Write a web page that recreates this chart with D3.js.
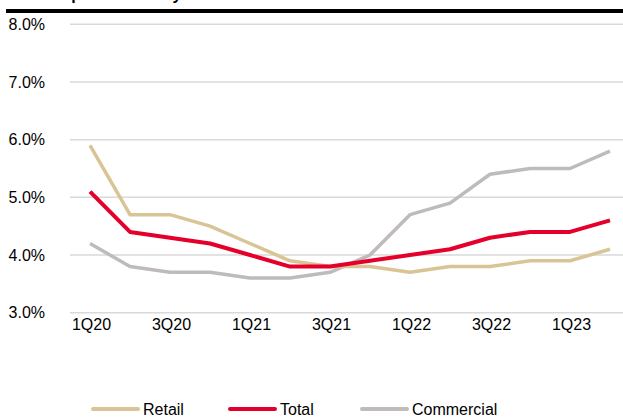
<!DOCTYPE html>
<html>
<head>
<meta charset="utf-8">
<script src="https://cdn.jsdelivr.net/npm/d3@7"></script>
<style>
  html, body { margin: 0; padding: 0; background: #fff; }
  svg { display: block; font-family: "Liberation Sans", Arial, sans-serif; }
</style>
</head>
<body>
<svg id="chart" width="623" height="417"></svg>
<script>
const quarters = ["1Q20","2Q20","3Q20","4Q20","1Q21","2Q21","3Q21","4Q21","1Q22","2Q22","3Q22","4Q22","1Q23","2Q23"];
const tickLabels = ["1Q20","3Q20","1Q21","3Q21","1Q22","3Q22","1Q23"];
const yTicks = [3, 4, 5, 6, 7, 8];
const retail     = [5.9, 4.7, 4.7, 4.5, 4.2, 3.9, 3.8, 3.8, 3.7, 3.8, 3.8, 3.9, 3.9, 4.1];
const total      = [5.1, 4.4, 4.3, 4.2, 4.0, 3.8, 3.8, 3.9, 4.0, 4.1, 4.3, 4.4, 4.4, 4.6];
const commercial = [4.2, 3.8, 3.7, 3.7, 3.6, 3.6, 3.7, 4.0, 4.7, 4.9, 5.4, 5.5, 5.5, 5.8];
const seriesNames = ["Retail", "Total", "Commercial"];
const titleText = "Total impaired ratio by sector";

const colors = { Retail: "#D9C495", Total: "#E4002B", Commercial: "#BFBBBB" };
const widths = { Retail: 3.5, Total: 4, Commercial: 3.5 };
const seriesData = { Retail: retail, Total: total, Commercial: commercial };

const svg = d3.select("#chart");

// title (mostly cut off above the frame) and rule
svg.append("text").attr("x", 11).attr("y", -0.5)
  .attr("font-size", 16).attr("font-weight", "bold").attr("fill", "#000")
  .text(titleText);
svg.append("rect").attr("x", 6).attr("y", 9).attr("width", 617).attr("height", 4).attr("fill", "#000");

const x = d3.scalePoint().domain(quarters).range([70, 630]).padding(0.5);
const y = d3.scaleLinear().domain([3, 8]).range([312.7, 24.3]);

// gridlines
svg.append("g").selectAll("line").data(yTicks).join("line")
  .attr("x1", 70).attr("x2", 623)
  .attr("y1", d => y(d)).attr("y2", d => y(d))
  .attr("stroke", "#D9D9D9").attr("stroke-width", 1.5);

// y axis labels
const yAxis = d3.axisLeft(y).tickValues(yTicks).tickFormat(d => d.toFixed(1) + "%").tickSize(0).tickPadding(0);
const gy = svg.append("g").attr("transform", "translate(45,0)").call(yAxis);
gy.select(".domain").remove();
gy.selectAll("text").attr("font-size", 16).attr("fill", "#000").attr("font-family", "Liberation Sans, Arial, sans-serif");

// x axis labels
const xAxis = d3.axisBottom(x).tickValues(tickLabels).tickSize(0).tickPadding(0);
const gx = svg.append("g").attr("transform", "translate(1,319)").call(xAxis);
gx.select(".domain").remove();
gx.selectAll("text").attr("font-size", 16).attr("fill", "#000").attr("font-family", "Liberation Sans, Arial, sans-serif");

// lines
const line = d3.line().x((d, i) => x(quarters[i])).y(d => y(d));
["Commercial", "Retail", "Total"].forEach(name => {
  svg.append("path").datum(seriesData[name])
    .attr("d", line).attr("fill", "none")
    .attr("stroke", colors[name]).attr("stroke-width", widths[name])
    .attr("stroke-linejoin", "round");
});

// legend
const legendX = { Retail: 93, Total: 230, Commercial: 362 };
const lg = svg.append("g");
seriesNames.forEach(name => {
  lg.append("line").attr("x1", legendX[name]).attr("x2", legendX[name] + 45)
    .attr("y1", 409).attr("y2", 409)
    .attr("stroke", colors[name]).attr("stroke-width", 4).attr("stroke-linecap", "round");
  lg.append("text").attr("x", legendX[name] + 50).attr("y", 414.5)
    .attr("font-size", 16).attr("fill", "#000").text(name);
});
</script>
</body>
</html>
